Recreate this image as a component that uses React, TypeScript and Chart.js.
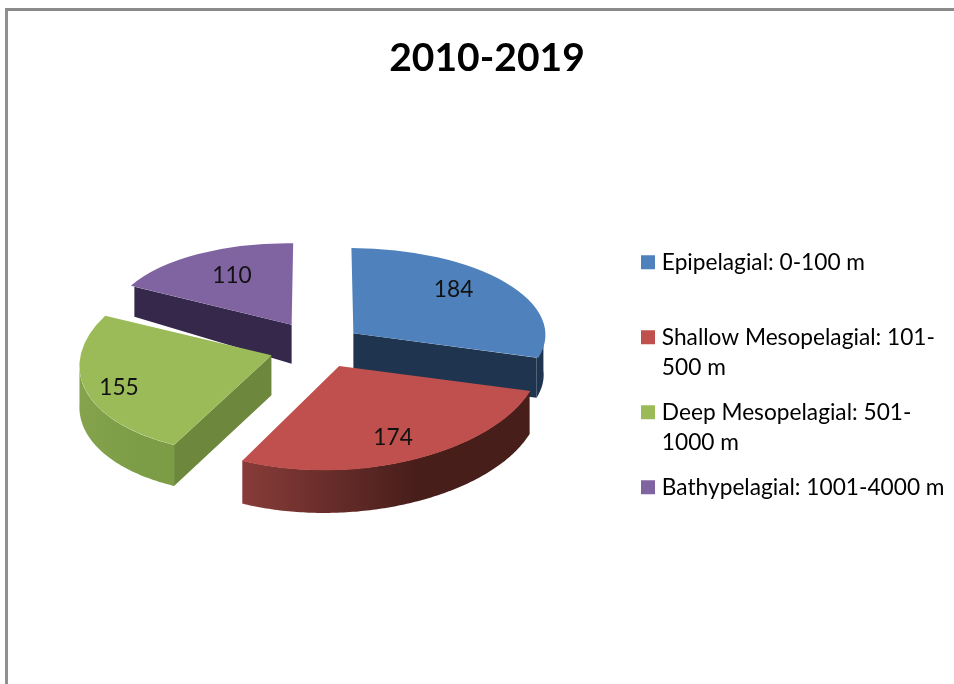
import React, { useEffect, useRef } from "react";
import { Chart, registerables } from "chart.js";

Chart.register(...registerables);

const CHART_TITLE = "2010-2019";
const CATEGORIES = ["Epipelagial: 0-100 m", "Shallow Mesopelagial: 101-500 m", "Deep Mesopelagial: 501-1000 m", "Bathypelagial: 1001-4000 m"];
const LEGEND_LINES = [["Epipelagial: 0-100 m", ""], ["Shallow Mesopelagial: 101-", "500 m"], ["Deep Mesopelagial: 501-", "1000 m"], ["Bathypelagial: 1001-4000 m"]];
const VALUES = [184, 174, 155, 110];
const TOP_COLORS = ["#4f81bd", "#c0504d", "#9bbb59", "#8064a2"];
const CUT_COLORS = ["#1f344e", "#4a1f1c", "#6d883c", "#36284a"];
const RIM_LEFT = ["#1f344e", "#883c39", "#84a34c", "#36284a"];
const RIM_RIGHT = ["#1f344e", "#481e1b", "#7d9c46", "#36284a"];
const DRAW_ORDER = [3, 2, 0, 1];

// how each slice is seen in the picture's fake perspective
const FLATTEN = [0.44, 0.54, 0.51, 0.415];
const WIDEN = [0.99, 1.045, 1, 0.92];
const SHEAR = [0.105, 0, -0.055, 0.05];
const TILT = [-0.012, -0.04, -0.042, 0];
const NUDGE_X = [0, 4, -3, -5];
const NUDGE_Y = [0, -1, 2, -4];
const DEPTH_APEX = [42, 43, 40, 39];
const DEPTH_RIM = [40, 43, 41, 30];
const LABEL_TURN = [-5.8, 0.6, -1.8, 1.6];
const LABEL_REACH = [0.745, 0.763, 0.83, 0.697];

const PIE_X = 318;
const PIE_Y = 345;
const FONT = "Lato";
const FONT_SIZE = 22.7;

const project = (i: number, u: number, v: number) => [
  PIE_X + NUDGE_X[i] + WIDEN[i] * u + SHEAR[i] * FLATTEN[i] * v,
  PIE_Y + NUDGE_Y[i] + FLATTEN[i] * v + TILT[i] * WIDEN[i] * u,
];

const pie3d = {
  id: "pie3d",
  afterLayout(chart: any) {
    const l = chart.legend;
    const w = l.width;
    const h = l.height;
    l.left = 630.5;
    l.right = l.left + w;
    l.top = 236;
    l.bottom = l.top + h;
  },
  beforeDatasetDraw(chart: any) {
    const ctx = chart.ctx;
    const arcs = chart.getDatasetMeta(0).data;
    for (const i of DRAW_ORDER) {
      const arc = arcs[i];
      const mid = (arc.startAngle + arc.endAngle) / 2;
      const off = arc.options.offset / 4;
      const r = arc.outerRadius;
      const ou = Math.cos(mid) * off;
      const ov = Math.sin(mid) * off;
      const [ax, ay] = project(i, ou, ov);
      const pt = (a: number) => project(i, ou + Math.cos(a) * r, ov + Math.sin(a) * r);

      const wall = (a: number) => {
        const [x, y] = pt(a);
        ctx.beginPath();
        ctx.moveTo(ax, ay);
        ctx.lineTo(x, y);
        ctx.lineTo(x, y + DEPTH_RIM[i]);
        ctx.lineTo(ax, ay + DEPTH_APEX[i]);
        ctx.closePath();
        ctx.fillStyle = CUT_COLORS[i];
        ctx.fill();
      };
      if (Math.sin(arc.startAngle - Math.PI / 2) > 0.05) wall(arc.startAngle);
      if (Math.sin(arc.endAngle + Math.PI / 2) > 0.05) wall(arc.endAngle);

      const from = arc.startAngle;
      const to = arc.endAngle;
      const rim: number[][] = [];
      for (let s = 0; s <= 120; s++) {
        const a = from + ((to - from) * s) / 120;
        if (Math.sin(a) > -0.01) rim.push(pt(a));
      }
      if (rim.length > 1) {
        const xs = rim.map((p) => p[0]);
        const g = ctx.createLinearGradient(Math.min(...xs), 0, Math.max(...xs), 0);
        g.addColorStop(0, RIM_LEFT[i]);
        g.addColorStop(0.6, RIM_RIGHT[i]);
        g.addColorStop(1, RIM_RIGHT[i]);
        ctx.beginPath();
        rim.forEach((p, n) => (n ? ctx.lineTo(p[0], p[1]) : ctx.moveTo(p[0], p[1])));
        for (let n = rim.length - 1; n >= 0; n--) ctx.lineTo(rim[n][0], rim[n][1] + DEPTH_RIM[i]);
        ctx.closePath();
        ctx.fillStyle = g;
        ctx.fill();
      }

      ctx.save();
      ctx.translate(PIE_X + NUDGE_X[i], PIE_Y + NUDGE_Y[i]);
      ctx.transform(WIDEN[i], TILT[i] * WIDEN[i], SHEAR[i] * FLATTEN[i], FLATTEN[i], 0, 0);
      ctx.translate(-arc.x, -arc.y);
      arc.draw(ctx);
      ctx.restore();
    }

    ctx.save();
    ctx.font = `${FONT_SIZE}px ${FONT}`;
    ctx.fillStyle = "#111";
    ctx.textAlign = "center";
    ctx.textBaseline = "middle";
    arcs.forEach((arc: any, i: number) => {
      const mid = (arc.startAngle + arc.endAngle) / 2 + (LABEL_TURN[i] * Math.PI) / 180;
      const len = arc.options.offset / 4 + arc.outerRadius * LABEL_REACH[i];
      const [x, y] = project(i, Math.cos(mid) * len, Math.sin(mid) * len);
      ctx.fillText(String(VALUES[i]), x, y);
    });
    ctx.restore();
    return false;
  },
};

export default function App() {
  const ref = useRef<HTMLCanvasElement>(null);
  useEffect(() => {
    const chart = new Chart(ref.current as HTMLCanvasElement, {
      type: "pie",
      data: {
        labels: CATEGORIES,
        datasets: [{ data: VALUES, backgroundColor: TOP_COLORS, borderWidth: 0, offset: 180 }],
      },
      plugins: [pie3d],
      options: {
        animation: false,
        responsive: false,
        radius: 192,
        rotation: 2,
        layout: { padding: { left: 20 } },
        plugins: {
          tooltip: { enabled: false },
          title: {
            display: true,
            text: CHART_TITLE,
            color: "#000",
            font: { family: FONT, size: 39, weight: "bold" },
            padding: { top: 35, bottom: 10 },
          },
          legend: {
            position: "right",
            align: "start",
            labels: {
              boxWidth: 5,
              boxHeight: 5,
              padding: 15,
              color: "#1a1a1a",
              font: { family: FONT, size: FONT_SIZE, lineHeight: 30 / FONT_SIZE },
              generateLabels: () =>
                LEGEND_LINES.map((text, i) => ({
                  text,
                  fillStyle: TOP_COLORS[i],
                  strokeStyle: TOP_COLORS[i],
                  lineWidth: 9,
                  index: i,
                })),
            },
          },
        },
      } as any,
    } as any);
    return () => chart.destroy();
  }, []);
  return (
    <div style={{ position: "fixed", left: 0, top: 0, width: 954, height: 684, background: "#fff", overflow: "hidden" }}>
      <div style={{ position: "absolute", left: 5, top: 8, right: 0, bottom: 0, borderLeft: "3px solid #909090", borderTop: "3px solid #8a8a8a" }} />
      <canvas ref={ref} width={954} height={684} style={{ position: "absolute", left: 0, top: 0 }} />
    </div>
  );
}
